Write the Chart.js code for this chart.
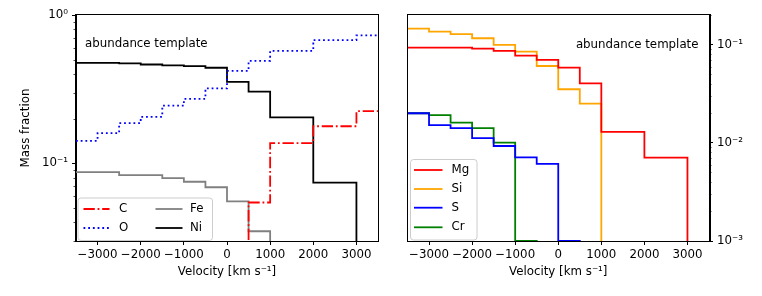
<!DOCTYPE html>
<html lang="en">
<head>
<meta charset="UTF-8">
<title>Abundance template</title>
<script src="https://cdn.jsdelivr.net/npm/chart.js"></script>
<style>
  body { margin: 0; background: #fff; }
  #wrap { position: relative; width: 762px; height: 296px; }
  canvas { position: absolute; top: 0; }
</style>
</head>
<body>
<div id="wrap">
  <canvas id="left" width="380" height="296" style="left:0"></canvas>
  <canvas id="right" width="382" height="296" style="left:380px"></canvas>
</div>
<script>
// velocity bins (km/s): each bin starts here and is 500 wide, last one ends at 3500
const binStarts = [-3500, -3000, -2500, -2000, -1500, -1000, -500, 0, 500, 1000, 1500, 2000, 2500, 3000];
const binEnd = 3500;
const xTicks = [-3000, -2000, -1000, 0, 1000, 2000, 3000];

// left panel mass fractions
const massC  = [0.001, 0.001, 0.001, 0.001, 0.001, 0.001, 0.001, 0.001, 0.0545, 0.137, 0.137, 0.178, 0.178, 0.225];
const massO  = [0.142, 0.160, 0.187, 0.206, 0.245, 0.272, 0.320, 0.420, 0.491, 0.574, 0.574, 0.678, 0.678, 0.729];
const massFe = [0.0873, 0.0873, 0.0833, 0.0833, 0.0796, 0.0752, 0.0691, 0.0554, 0.0349, 0.001, 0.001, 0.001, 0.001, 0.001];
const massNi = [0.476, 0.476, 0.472, 0.464, 0.457, 0.452, 0.441, 0.354, 0.305, 0.204, 0.204, 0.0741, 0.0741, 0.001];

// right panel mass fractions
const massMg = [0.0938, 0.0938, 0.0938, 0.0917, 0.0869, 0.0778, 0.0703, 0.0587, 0.0406, 0.0130, 0.0130, 0.00708, 0.00708, 0.0005];
const massSi = [0.147, 0.137, 0.129, 0.117, 0.100, 0.0855, 0.0610, 0.0353, 0.0252, 0.0005, 0.0005, 0.0005, 0.0005, 0.0005];
const massS  = [0.0201, 0.0152, 0.0142, 0.0112, 0.00931, 0.00714, 0.00611, 0.001, 0.0005, 0.0005, 0.0005, 0.0005, 0.0005, 0.0005];
const massCr = [0.0201, 0.0192, 0.0161, 0.0142, 0.0101, 0.001, 0.0005, 0.0005, 0.0005, 0.0005, 0.0005, 0.0005, 0.0005, 0.0005];

const FONT = 11.8;
Chart.defaults.font.family = "'DejaVu Sans', sans-serif";
Chart.defaults.font.size = FONT;
Chart.defaults.color = '#000';

// step points: one per bin start plus a closing point at the last edge
function steps(vals) {
  const pts = binStarts.map((x, i) => ({ x: x, y: vals[i] }));
  pts.push({ x: binEnd, y: vals[vals.length - 1] });
  return pts;
}

function logTicks(lo, hi) {
  const out = [];
  for (let e = -4; e <= 1; e++) {
    for (let m = 1; m <= 9; m++) {
      const v = +(m * Math.pow(10, e)).toPrecision(6);
      if (v >= lo * 0.999 && v <= hi * 1.001) out.push(v);
    }
  }
  return out;
}

const isDecade = v => Math.abs(Math.log10(v) - Math.round(Math.log10(v))) < 1e-6;
const sup = { '0': '\u2070', '1': '\u00b9', '2': '\u00b2', '3': '\u00b3', '-': '\u207b' };
function decadeLabel(v) {
  if (!isDecade(v)) return '';
  const e = String(Math.round(Math.log10(v)));
  return '10' + e.split('').map(c => sup[c]).join('');
}

function ds(label, vals, color, dash) {
  return {
    label: label, data: steps(vals), borderColor: color, backgroundColor: color,
    borderWidth: 1.8, borderDash: dash || [], stepped: 'before', pointRadius: 0, fill: false
  };
}

// frame, minor ticks, legend box and the panel note
const decor = {
  id: 'decor',
  afterDatasetsDraw(chart, args, o) {
    const ctx = chart.ctx;
    const a = chart.chartArea;
    const ys = chart.scales.y;
    ctx.save();
    ctx.strokeStyle = '#000';
    ctx.lineWidth = 1;
    ctx.strokeRect(Math.round(a.left) - 0.5, Math.round(a.top) - 0.5, Math.round(a.right - a.left) + 1, Math.round(a.bottom - a.top) + 1);

    // minor log ticks
    ctx.lineWidth = 0.7;
    ys.ticks.forEach(t => {
      if (isDecade(t.value)) return;
      const py = Math.round(ys.getPixelForValue(t.value)) + 0.5;
      ctx.beginPath();
      if (o.yRight) { ctx.moveTo(a.right, py); ctx.lineTo(a.right + 2.5, py); }
      else { ctx.moveTo(a.left, py); ctx.lineTo(a.left - 2.5, py); }
      ctx.stroke();
    });

    // note text
    ctx.font = FONT + "px 'DejaVu Sans'";
    ctx.fillStyle = '#000';
    ctx.textBaseline = 'middle';
    ctx.textAlign = o.note.align;
    ctx.fillText('abundance template', o.note.x, o.note.y);

    // legend
    const b = o.legend.box;
    ctx.beginPath();
    ctx.roundRect(b.x + 0.5, b.y + 0.5, b.w, b.h, 3);
    ctx.fillStyle = 'rgba(255,255,255,0.8)';
    ctx.fill();
    ctx.strokeStyle = '#cccccc';
    ctx.lineWidth = 1;
    ctx.stroke();
    ctx.textAlign = 'left';
    o.legend.items.forEach(it => {
      const d = chart.data.datasets[it.i];
      ctx.beginPath();
      ctx.strokeStyle = d.borderColor;
      ctx.lineWidth = d.borderWidth;
      ctx.setLineDash(d.borderDash);
      ctx.moveTo(it.x, it.y);
      ctx.lineTo(it.x + it.len, it.y);
      ctx.stroke();
      ctx.setLineDash([]);
      ctx.fillStyle = '#000';
      ctx.fillText(d.label, it.tx, it.y);
    });
    ctx.restore();
  }
};

function makeChart(id, datasets, cfg) {
  return new Chart(document.getElementById(id), {
    type: 'line',
    data: { datasets: datasets },
    plugins: [decor],
    options: {
      responsive: false,
      animation: false,
      layout: { padding: cfg.padding },
      plugins: { legend: { display: false }, tooltip: { enabled: false }, decor: cfg.decor },
      scales: {
        x: {
          type: 'linear', min: -3500, max: 3500,
          afterBuildTicks: s => { s.ticks = xTicks.map(v => ({ value: v })); },
          afterFit: s => { s.height = cfg.xHeight; },
          border: { display: true, color: '#000', width: 1 },
          grid: { drawOnChartArea: false, tickLength: 4, tickColor: '#000', tickWidth: 1 },
          ticks: { autoSkip: false, maxRotation: 0, minRotation: 0, padding: 3,
                   callback: v => (v < 0 ? '\u2212' + Math.abs(v) : String(v)) },
          title: { display: true, text: 'Velocity [km s\u207b\u00b9]', padding: { top: 0, bottom: 16.5 } }
        },
        y: {
          type: 'logarithmic', position: cfg.yRight ? 'right' : 'left',
          min: cfg.yMin, max: cfg.yMax,
          afterBuildTicks: s => { s.ticks = logTicks(cfg.yMin, cfg.yMax).map(v => ({ value: v })); },
          afterFit: s => { s.width = cfg.yWidth; },
          border: { display: true, color: '#000', width: 1 },
          grid: { drawOnChartArea: false, tickLength: 4, tickWidth: 1,
                  tickColor: c => (c.tick && isDecade(c.tick.value) ? '#000' : 'rgba(0,0,0,0)') },
          ticks: { autoSkip: false, padding: 4, callback: v => decadeLabel(v) },
          title: cfg.yTitle ? { display: true, text: cfg.yTitle, padding: { top: 19 } } : { display: false }
        }
      }
    }
  });
}

makeChart('left', [
  ds('C', massC, '#ff0000', [11.3, 2.8, 1.8, 2.8]),
  ds('O', massO, '#0000ff', [1.8, 2.9]),
  ds('Fe', massFe, '#808080'),
  ds('Ni', massNi, '#000000')
], {
  padding: { top: 15, right: 2, left: 0, bottom: 0 },
  xHeight: 55, yWidth: 76, yMin: 0.03, yMax: 1, yTitle: 'Mass fraction',
  decor: {
    yRight: false,
    note: { x: 85, y: 44, align: 'left' },
    legend: {
      box: { x: 77.5, y: 197.5, w: 134.5, h: 42.5 },
      items: [
        { i: 0, x: 83.5, y: 209, len: 26, tx: 119 },
        { i: 1, x: 83.5, y: 228, len: 26, tx: 119 },
        { i: 2, x: 155.5, y: 209, len: 27, tx: 190 },
        { i: 3, x: 155.5, y: 228, len: 27, tx: 190 }
      ]
    }
  }
});

makeChart('right', [
  ds('Mg', massMg, '#ff0000'),
  ds('Si', massSi, '#ffa500'),
  ds('S', massS, '#0000ff'),
  ds('Cr', massCr, '#008000')
], {
  padding: { top: 15, right: 0, left: 27.5, bottom: 0 },
  xHeight: 55, yWidth: 53, yMin: 0.001, yMax: 0.202, yTitle: null, yRight: true,
  decor: {
    yRight: true,
    note: { x: 318.5, y: 45, align: 'right' },
    legend: {
      box: { x: 30, y: 159, w: 66.5, h: 80.5 },
      items: [
        { i: 0, x: 34, y: 170, len: 28.5, tx: 71.5 },
        { i: 1, x: 34, y: 189, len: 28.5, tx: 71.5 },
        { i: 2, x: 34, y: 207.7, len: 28.5, tx: 71.5 },
        { i: 3, x: 34, y: 227.3, len: 28.5, tx: 71.5 }
      ]
    }
  }
});
</script>
</body>
</html>
